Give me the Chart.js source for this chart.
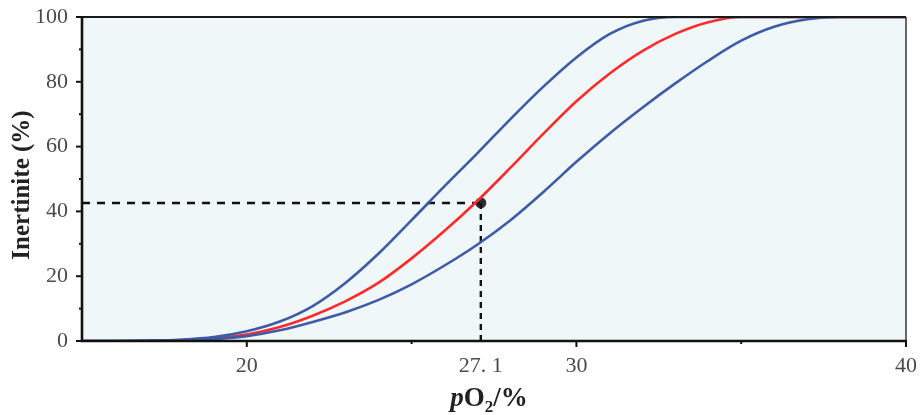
<!DOCTYPE html>
<html>
<head>
<meta charset="utf-8">
<script src="https://cdn.jsdelivr.net/npm/chart.js@4.4.1/dist/chart.umd.min.js"></script>
<style>
html,body{margin:0;padding:0;background:#fff;}
#wrap{width:920px;height:415px;position:relative;}
</style>
</head>
<body>
<div id="wrap"><canvas id="c"></canvas></div>
<script>
// ---- data ----
const pO2 = [15,16,17,18,19,20,21,22,23,24,25,26,27,28,29,30,31,32,33,34,35,36,37,38,39,40];
const upperCurve = [0,0,0.1,0.4,1.2,3.0,6.0,10.8,18,27,37.3,47.8,58,68.5,78.5,87.5,94.7,98.8,100,100,100,100,100,100,100,100];
const middleCurve = [0,0,0.05,0.3,0.9,2.0,4.3,7.8,12.3,18,25.5,34,43.3,53.5,64,74,82.5,89.5,94.8,98.4,100,100,100,100,100,100];
const lowerCurve = [0,0,0.05,0.2,0.6,1.5,3.3,5.9,8.9,12.7,17.5,23.3,29.8,37.3,46,55.3,64,72,79.5,86.5,92.7,97,99.3,100,100,100];
const markX = 27.1;
const markY = 42.6;
const xMin = 15, xMax = 40;
const xTickValues = [20,25,27.1,30,35,40];
const xTickLabels = {20:'20',27.1:'27. 1',30:'30',40:'40'};
const xMajorTicks = [20,30,40];
const xMinorTicks = [25,35];
const yTickValues = [0,10,20,30,40,50,60,70,80,90,100];
const yMajorTicks = [0,20,40,60,80,100];
const yTitle = 'Inertinite (%)';

const toPts = ys => pO2.map((x,i)=>({x:x,y:ys[i]}));
const BLUE = '#3d5ba6';
const RED = '#ff2a2a';
const SERIF = '"Liberation Serif","DejaVu Serif",serif';

const bgPlugin = {
  id:'bg',
  beforeDraw(chart){
    const {ctx, chartArea:a} = chart;
    ctx.save();
    ctx.fillStyle = '#eff7f9';
    ctx.fillRect(a.left, a.top, a.right-a.left, a.bottom-a.top);
    ctx.restore();
  }
};

const framePlugin = {
  id:'frame',
  afterDraw(chart){
    const {ctx, chartArea:a, scales} = chart;
    const xs = scales.x, ys = scales.y;
    ctx.save();
    ctx.strokeStyle = '#444';
    ctx.lineWidth = 1.6;
    ctx.beginPath(); ctx.moveTo(a.right, a.top); ctx.lineTo(a.right, a.bottom); ctx.stroke();
    ctx.strokeStyle = '#1a1a1a';
    ctx.lineWidth = 2;
    ctx.beginPath(); ctx.moveTo(a.left, a.top); ctx.lineTo(a.right, a.top); ctx.stroke();
    ctx.strokeStyle = '#111';
    ctx.lineWidth = 2.6;
    ctx.beginPath(); ctx.moveTo(a.left, a.top-1); ctx.lineTo(a.left, a.bottom); ctx.lineTo(a.right+1, a.bottom); ctx.stroke();
    ctx.lineWidth = 2;
    xMajorTicks.forEach(v=>{const p=xs.getPixelForValue(v);ctx.beginPath();ctx.moveTo(p,a.bottom);ctx.lineTo(p,a.bottom+6);ctx.stroke();});
    xMinorTicks.forEach(v=>{const p=xs.getPixelForValue(v);ctx.beginPath();ctx.moveTo(p,a.bottom);ctx.lineTo(p,a.bottom+3);ctx.stroke();});
    yTickValues.forEach(v=>{const p=ys.getPixelForValue(v);const l=yMajorTicks.includes(v)?6:3;ctx.beginPath();ctx.moveTo(a.left,p);ctx.lineTo(a.left-l,p);ctx.stroke();});
    ctx.fillStyle = '#222';
    ctx.font = 'bold 25px ' + SERIF;
    ctx.textAlign = 'center';
    ctx.textBaseline = 'middle';
    ctx.translate(23, 185);
    ctx.rotate(-Math.PI/2);
    ctx.fillText(yTitle, 0, 0);
    ctx.restore();
    ctx.save();
    ctx.fillStyle = '#222';
    ctx.textBaseline = 'alphabetic';
    const parts = [
      {t:'p', f:'italic bold 27px '+SERIF, dy:0},
      {t:'O', f:'bold 27px '+SERIF, dy:0},
      {t:'2', f:'bold 17px '+SERIF, dy:6},
      {t:'/%', f:'bold 27px '+SERIF, dy:0}
    ];
    let total = 0;
    parts.forEach(p=>{ctx.font=p.f; p.w=ctx.measureText(p.t).width; total+=p.w;});
    let x = 489 - total/2;
    const base = 406;
    parts.forEach(p=>{ctx.font=p.f; ctx.textAlign='left'; ctx.fillText(p.t, x, base+p.dy); x+=p.w;});
    ctx.restore();
  }
};

const lineDs = (data,color)=>({
  data:data, borderColor:color, borderWidth:2.6, pointRadius:0,
  cubicInterpolationMode:'monotone', fill:false
});

const zeroPad = s => { s.paddingTop = 0; s.paddingBottom = 0; s.paddingLeft = 0; s.paddingRight = 0; };

new Chart(document.getElementById('c'), {
  type:'line',
  data:{
    datasets:[
      lineDs(toPts(lowerCurve), BLUE),
      lineDs(toPts(upperCurve), BLUE),
      lineDs(toPts(middleCurve), RED),
      {data:[{x:xMin,y:markY},{x:markX,y:markY}], borderColor:'#111', borderWidth:2.4, borderDash:[8,7], pointRadius:0},
      {data:[{x:markX,y:markY},{x:markX,y:0}], borderColor:'#111', borderWidth:2.4, borderDash:[6,5], pointRadius:0},
      {data:[{x:markX,y:markY}], showLine:false, pointRadius:5.5, pointBackgroundColor:'#2a2d33', pointBorderColor:'#2a2d33', pointBorderWidth:0}
    ]
  },
  options:{
    responsive:true, maintainAspectRatio:false, animation:false,
    layout:{padding:{left:0,right:14,top:17,bottom:0}},
    plugins:{legend:{display:false}, tooltip:{enabled:false}},
    scales:{
      x:{
        type:'linear', min:xMin, max:xMax,
        grid:{display:false, drawTicks:false}, border:{display:false},
        afterBuildTicks(s){ s.ticks = xTickValues.map(v=>({value:v})); },
        afterFit(s){ s.height = 74; zeroPad(s); },
        ticks:{
          autoSkip:false, maxRotation:0, padding:12, color:'#4a4a4a',
          font:{family:SERIF, size:22},
          callback:(v)=> xTickLabels[v] !== undefined ? xTickLabels[v] : ''
        }
      },
      y:{
        min:0, max:100,
        grid:{display:false, drawTicks:false}, border:{display:false},
        afterBuildTicks(s){ s.ticks = yTickValues.map(v=>({value:v})); },
        afterFit(s){ s.width = 82; zeroPad(s); },
        ticks:{
          autoSkip:false, padding:14, color:'#4a4a4a',
          font:{family:SERIF, size:22},
          callback:(v)=> yMajorTicks.includes(v) ? String(v) : ''
        }
      }
    }
  },
  plugins:[bgPlugin, framePlugin]
});
</script>
</body>
</html>
